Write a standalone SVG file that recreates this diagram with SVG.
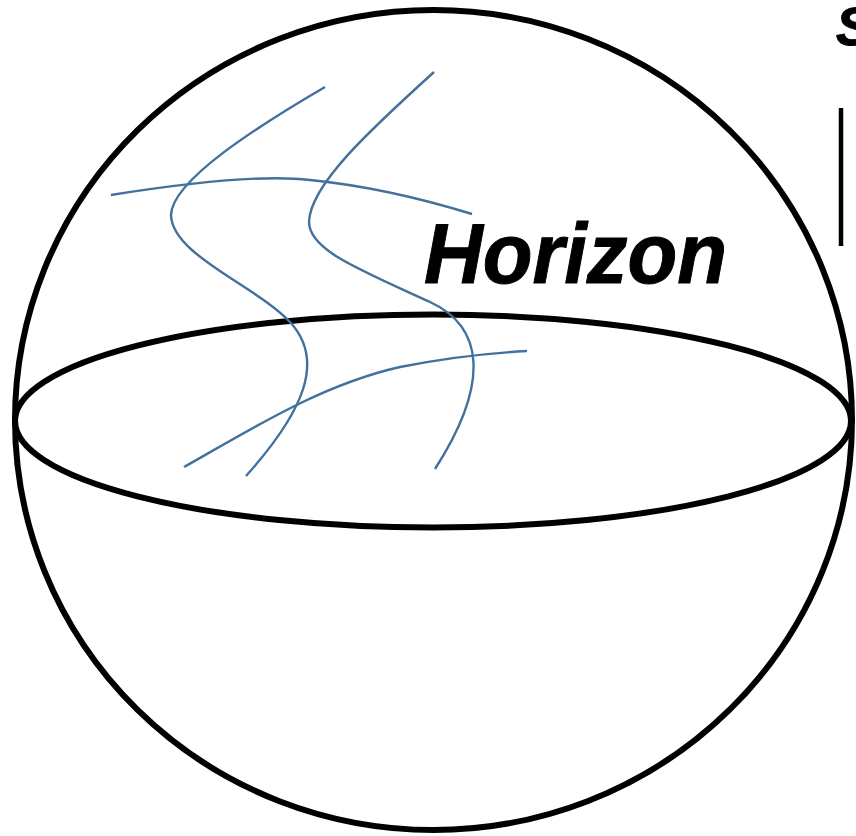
<svg xmlns="http://www.w3.org/2000/svg" width="856" height="836" viewBox="0 0 856 836">
<style>
.k{fill:none;stroke:#000;stroke-width:6}
.b{fill:none;stroke:#41719C;stroke-width:2.4;stroke-linecap:butt}
.t{font-family:"Liberation Sans",Arial,sans-serif;font-weight:bold;font-style:italic;fill:#000}
</style>
<rect width="856" height="836" fill="#fff"/>
<g id="sphere">
<ellipse class="k" cx="433.5" cy="420" rx="418.5" ry="410"/>
</g>
<g id="equator">
<ellipse class="k" cx="433" cy="421" rx="418" ry="106.5"/>
</g>
<g id="marker-line">
<line x1="841" y1="108" x2="841" y2="246" stroke="#000" stroke-width="4.5"/>
</g>
<g id="curves">
<path class="b" d="M111,195 C180,184 260,174 310,180 C370,186 420,198 472,214"/>
<path class="b" d="M325,87 C260,125 172,180 171,215 C172,255 255,285 290,322 C325,360 305,410 246,476"/>
<path class="b" d="M434,72 C370,130 310,185 309,222 C309,250 360,270 430,302 C482,326 492,380 435,469"/>
<path class="b" d="M184,467 C250,430 320,385 400,367 C450,357 490,353 527,351"/>
</g>
<g id="label-horizon">
<text class="t" x="424" y="283" font-size="85" textLength="303" lengthAdjust="spacingAndGlyphs" stroke="#000" stroke-width="1">Horizon</text>
</g>
<g id="label-s">
<text class="t" x="836" y="45" font-size="54" stroke="#000" stroke-width="1">S</text>
</g>
</svg>
